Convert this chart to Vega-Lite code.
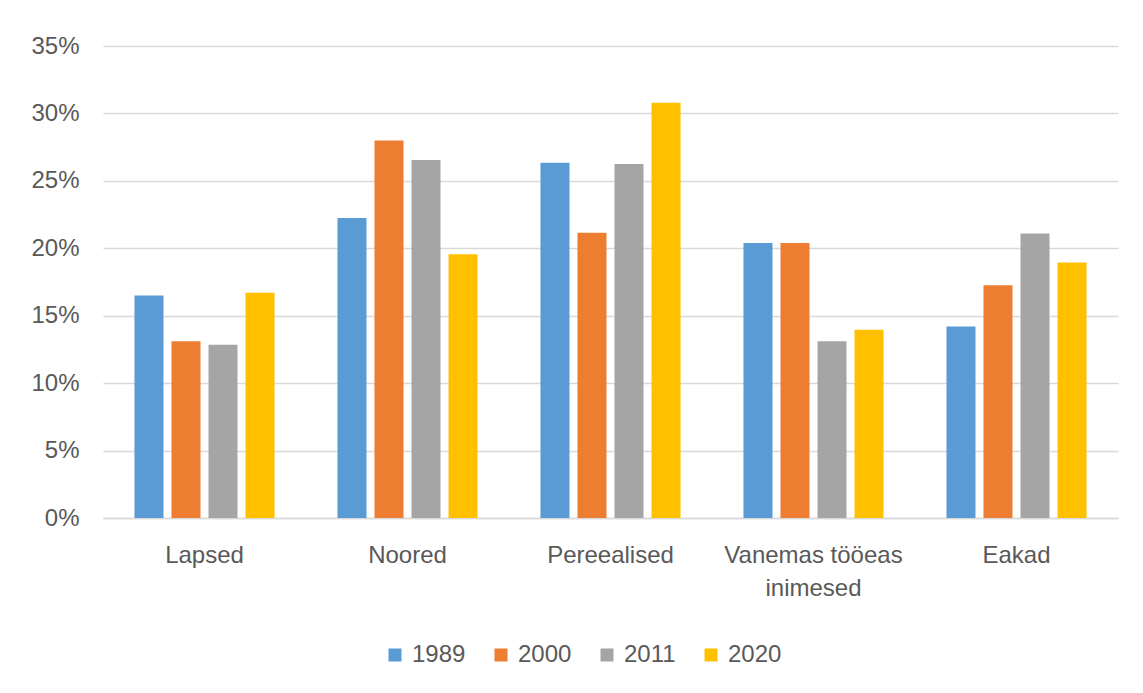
{
  "$schema": "https://vega.github.io/schema/vega-lite/v6.json",
  "autosize": "none",
  "width": 1015,
  "height": 472,
  "padding": {"left": 103, "top": 46, "right": 25, "bottom": 175},
  "background": "white",
  "config": {
    "view": {"stroke": null},
    "font": "Liberation Sans",
    "axis": {"labelFont": "Liberation Sans", "labelColor": "#595959", "labelFontSize": 24, "title": null, "ticks": false},
    "legend": {"labelFont": "Liberation Sans", "labelColor": "#595959", "labelFontSize": 24}
  },
  "data": {
    "values": [
      {"group": "Lapsed", "year": "1989", "share": 0.165},
      {"group": "Lapsed", "year": "2000", "share": 0.131},
      {"group": "Lapsed", "year": "2011", "share": 0.1285},
      {"group": "Lapsed", "year": "2020", "share": 0.167},
      {"group": "Noored", "year": "1989", "share": 0.2225},
      {"group": "Noored", "year": "2000", "share": 0.280},
      {"group": "Noored", "year": "2011", "share": 0.2655},
      {"group": "Noored", "year": "2020", "share": 0.1955},
      {"group": "Pereealised", "year": "1989", "share": 0.2635},
      {"group": "Pereealised", "year": "2000", "share": 0.2115},
      {"group": "Pereealised", "year": "2011", "share": 0.2625},
      {"group": "Pereealised", "year": "2020", "share": 0.308},
      {"group": "Vanemas tööeas inimesed", "year": "1989", "share": 0.204},
      {"group": "Vanemas tööeas inimesed", "year": "2000", "share": 0.204},
      {"group": "Vanemas tööeas inimesed", "year": "2011", "share": 0.131},
      {"group": "Vanemas tööeas inimesed", "year": "2020", "share": 0.1395},
      {"group": "Eakad", "year": "1989", "share": 0.142},
      {"group": "Eakad", "year": "2000", "share": 0.1725},
      {"group": "Eakad", "year": "2011", "share": 0.211},
      {"group": "Eakad", "year": "2020", "share": 0.1895}
    ]
  },
  "mark": {"type": "bar"},
  "encoding": {
    "x": {
      "field": "group",
      "type": "nominal",
      "sort": null,
      "scale": {"paddingInner": 0, "paddingOuter": 0},
      "axis": {
        "labelAngle": 0,
        "labelPadding": 25,
        "labelLineHeight": 33,
        "labelBaseline": "top",
        "domain": true,
        "domainColor": "#d9d9d9",
        "domainWidth": 1.5,
        "labelExpr": "datum.label == 'Vanemas tööeas inimesed' ? ['Vanemas tööeas', 'inimesed'] : datum.label"
      }
    },
    "xOffset": {
      "field": "year",
      "type": "nominal",
      "scale": {"paddingInner": 0.216, "paddingOuter": 0.85}
    },
    "y": {
      "field": "share",
      "type": "quantitative",
      "scale": {"domain": [0, 0.35], "nice": false},
      "axis": {
        "values": [0, 0.05, 0.1, 0.15, 0.2, 0.25, 0.3, 0.35],
        "format": ".0%",
        "domain": false,
        "grid": true,
        "gridColor": "#d9d9d9",
        "gridWidth": 1.5,
        "labelPadding": 24
      }
    },
    "color": {
      "field": "year",
      "type": "nominal",
      "scale": {"domain": ["1989", "2000", "2011", "2020"], "range": ["#5B9BD5", "#ED7D31", "#A5A5A5", "#FFC000"]},
      "legend": {
        "title": null,
        "orient": "none",
        "direction": "horizontal",
        "legendX": 280,
        "legendY": 597,
        "symbolType": "square",
        "symbolSize": 169,
        "symbolStrokeWidth": 0,
        "labelOffset": 5,
        "columnPadding": 23
      }
    }
  }
}
